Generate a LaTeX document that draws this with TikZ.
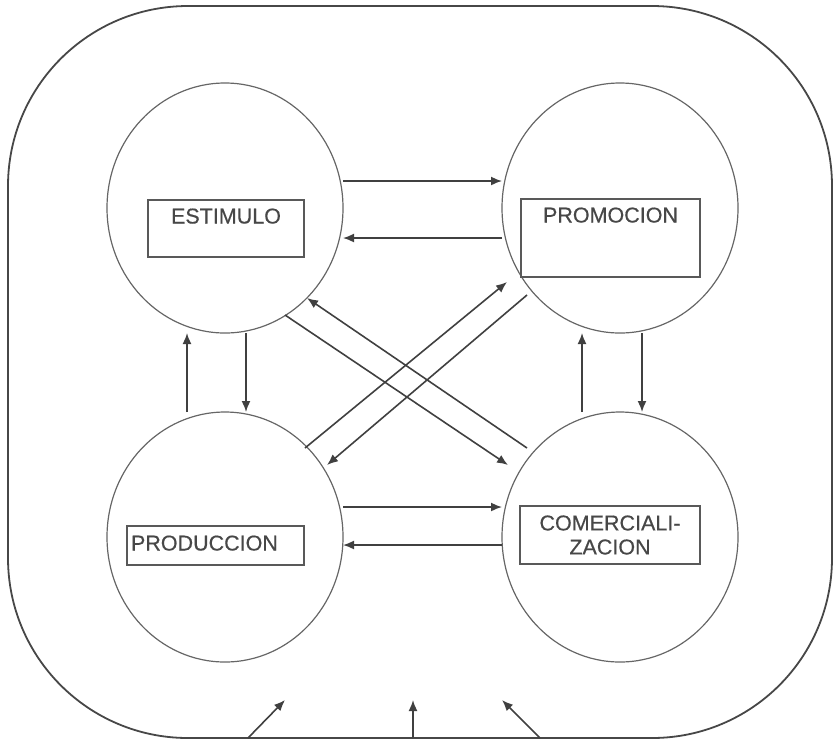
\documentclass[tikz,border=0pt]{standalone}
\usepackage{fontspec}
\setmainfont{Liberation Sans}
\newfontfamily\boxfont[FakeBold=0.5]{Liberation Sans}
\usetikzlibrary{shapes.geometric,arrows.meta}
\begin{document}
\begin{tikzpicture}[x=1pt,y=-1pt,
  circ/.style={ellipse,draw=black!60,line width=1.2pt,minimum width=236pt,minimum height=250pt,inner sep=0pt,outer sep=0pt},
  lbox/.style={rectangle,draw=black!65,line width=1.2pt,inner xsep=0pt,inner ysep=0pt,outer sep=0pt,text=black!72,font=\boxfont\fontsize{21.5}{24}\selectfont},
  conn/.style={draw=black!75,line width=1.6pt,-{Latex[length=11pt,width=9pt]}},
  framebox/.style={draw=black!72,line width=1.8pt,rounded corners=180pt,minimum width=824pt,minimum height=732pt,inner sep=0pt,outer sep=0pt}
]
\useasboundingbox (0,0) rectangle (834,740);
\node[framebox] (frame) at (420,372) {};

\node[circ] (est) at (225,208) {};
\node[circ] (pro) at (620,208) {};
\node[circ] (prd) at (225,537) {};
\node[circ] (com) at (620,537) {};

\node[lbox,minimum width=156pt,text height=23.5pt,text depth=33.5pt] (estb) at (226,228.5) {ESTIMULO};
\node[lbox,minimum width=179pt,text height=23.5pt,text depth=54.5pt] (prob) at (610.5,238) {PROMOCION};
\node[lbox,text width=169pt,inner xsep=4pt,align=left,text height=24.5pt,text depth=14.5pt] (prdb) at (215.5,545.5) {PRODUCCION};
\node[lbox,minimum width=180pt,minimum height=58pt,align=center] (comb) at (610,535) {COMERCIALI-\\ZACION};

% horizontals
\draw[conn] ([yshift=27pt]est.east) -- ([yshift=27pt]pro.west);
\draw[conn] ([yshift=-30pt]pro.west) -- ([yshift=-30pt]est.east);
\draw[conn] ([yshift=30pt]prd.east) -- ([yshift=30pt]com.west);
\draw[conn] ([yshift=-8pt]com.west) -- ([yshift=-8pt]prd.east);

% verticals
\draw[conn] ([xshift=-38pt]prd.north) -- ([xshift=-38pt]est.south);
\draw[conn] ([xshift=21pt]est.south) -- ([xshift=21pt]prd.north);
\draw[conn] ([xshift=-38pt]com.north) -- ([xshift=-38pt]pro.south);
\draw[conn] ([xshift=22pt]pro.south) -- ([xshift=22pt]com.north);

% diagonals
\draw[conn] ([shift={(60,107)}]est.center) -- ([shift={(-112,-72)}]com.center);
\draw[conn] ([shift={(-93,-89)}]com.center) -- ([shift={(82,90)}]est.center);
\draw[conn] ([shift={(80,-89)}]prd.center) -- ([shift={(-113,74)}]pro.center);
\draw[conn] ([shift={(-93,87)}]pro.center) -- ([shift={(102,-72)}]prd.center);

% bottom inputs
\coordinate (t1) at (285,700);
\coordinate (t2) at (413,700);
\coordinate (t3) at (502,700);
\draw[conn] ([xshift=-172pt]frame.south) -- (t1);
\draw[conn] ([xshift=-7pt]frame.south) -- (t2);
\draw[conn] ([xshift=120pt]frame.south) -- (t3);
\end{tikzpicture}
\end{document}
